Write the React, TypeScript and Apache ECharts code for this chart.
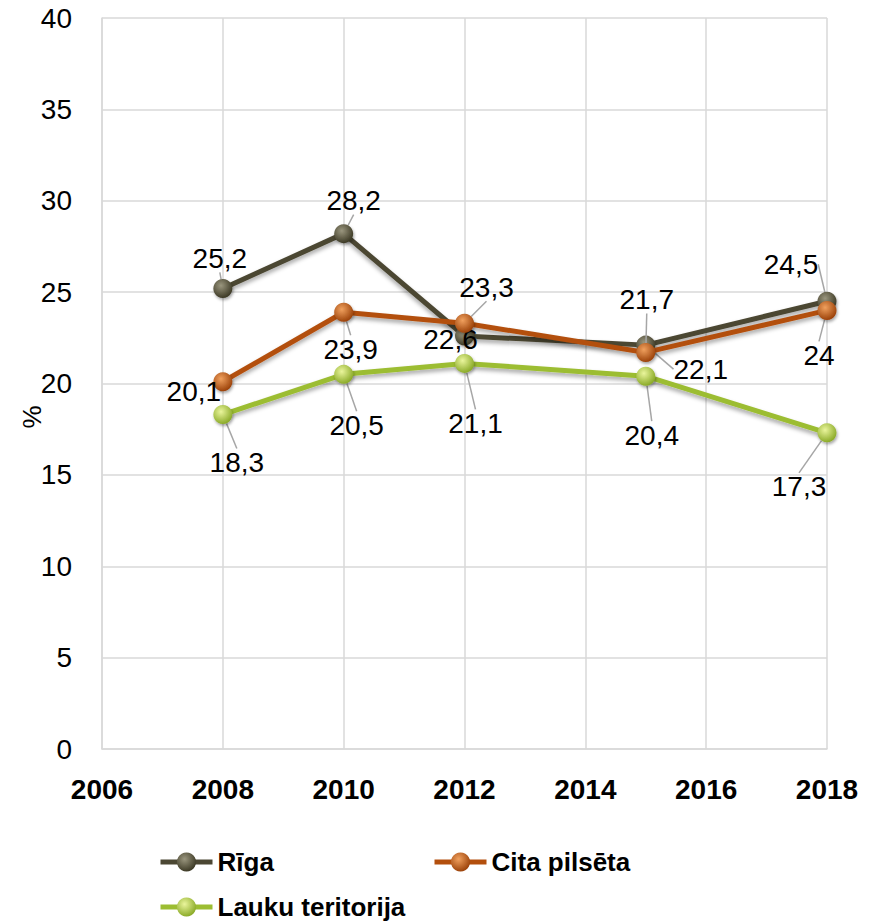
import React, { useEffect, useRef } from 'react';
import * as echarts from 'echarts';

const years = [2008, 2010, 2012, 2015, 2018];
const rigaValues = [25.2, 28.2, 22.6, 22.1, 24.5];
const citaValues = [20.1, 23.9, 23.3, 21.7, 24];
const laukuValues = [18.3, 20.5, 21.1, 20.4, 17.3];
const seriesNames = ['Rīga', 'Cita pilsēta', 'Lauku teritorija'];
const yAxisTitle = '%';

const labelOffsets: number[][][] = [
  [[-3, -30], [10, -33], [-14, 4], [55, 24], [-36, -37]],
  [[-29, 10], [7, 37], [22, -36], [1, -53], [-8, 45]],
  [[14, 48], [13, 51], [11, 60], [6, 59], [-28, 54]],
];

const palette = [
  { line: '#4B4733', light: '#9A967E', dark: '#36331F' },
  { line: '#B34F0D', light: '#F0A05E', dark: '#963C04' },
  { line: '#9CBD32', light: '#EAF59C', dark: '#84A520' },
];

const FONT = 'Liberation Sans';

export default function App() {
  const ref = useRef<HTMLDivElement>(null);
  useEffect(() => {
    if (!ref.current) return;
    const chart = echarts.init(ref.current, undefined, { renderer: 'svg' });
    const all = [rigaValues, citaValues, laukuValues];
    const series = all.map((vals, si) => ({
      name: seriesNames[si],
      type: 'line',
      data: years.map((y, i) => [y, vals[i]]),
      symbol: 'circle',
      symbolSize: 19,
      z: 2 + si,
      lineStyle: {
        color: palette[si].line,
        width: 5,
        shadowBlur: 4,
        shadowColor: 'rgba(0,0,0,0.35)',
        shadowOffsetY: 3,
      },
      itemStyle: {
        color: {
          type: 'radial',
          x: 0.4,
          y: 0.35,
          r: 0.7,
          colorStops: [
            { offset: 0, color: palette[si].light },
            { offset: 1, color: palette[si].dark },
          ],
        },
        borderWidth: 0,
        shadowBlur: 3,
        shadowColor: 'rgba(0,0,0,0.35)',
        shadowOffsetX: 1,
        shadowOffsetY: 2,
      },
      label: {
        show: true,
        position: 'inside',
        fontSize: 28,
        fontFamily: FONT,
        color: '#000',
        formatter: (p: any) => String(p.value[1]).replace('.', ','),
      },
      labelLine: {
        show: true,
        lineStyle: { color: '#A6A6A6', width: 1.5 },
      },
      labelLayout: (p: any) => ({
        dx: labelOffsets[p.seriesIndex][p.dataIndex][0],
        dy: labelOffsets[p.seriesIndex][p.dataIndex][1],
        hideOverlap: false,
      }),
      emphasis: { disabled: true },
    }));

    const legendBase = {
      itemWidth: 52,
      itemHeight: 24,
      itemGap: 0,
      lineStyle: { width: 5, shadowBlur: 0 },
      textStyle: {
        fontSize: 26,
        lineHeight: 28,
        fontWeight: 'bold',
        fontFamily: FONT,
        color: '#000',
      },
      selectedMode: false,
    };

    chart.setOption({
      animation: false,
      backgroundColor: '#fff',
      grid: { left: 102, right: 45, top: 18, bottom: 172 },
      xAxis: {
        type: 'value',
        min: 2006,
        max: 2018,
        interval: 2,
        axisLine: { show: true, lineStyle: { color: '#D9D9D9', width: 1.5 } },
        axisTick: { show: false },
        splitLine: { show: true, lineStyle: { color: '#D9D9D9', width: 1.5 } },
        axisLabel: {
          fontSize: 28,
          fontWeight: 'bold',
          fontFamily: FONT,
          color: '#000',
          margin: 26,
          formatter: (v: number) => String(v),
        },
      },
      yAxis: {
        type: 'value',
        min: 0,
        max: 40,
        interval: 5,
        axisLine: { show: true, lineStyle: { color: '#D9D9D9', width: 1.5 } },
        axisTick: { show: false },
        splitLine: { show: true, lineStyle: { color: '#D9D9D9', width: 1.5 } },
        axisLabel: {
          fontSize: 28,
          fontFamily: FONT,
          color: '#000',
          margin: 30,
        },
      },
      legend: [
        { ...legendBase, data: [seriesNames[0]], left: 153, top: 843 },
        { ...legendBase, data: [seriesNames[1]], left: 427, top: 843 },
        { ...legendBase, data: [seriesNames[2]], left: 153, top: 888 },
      ],
      graphic: [
        {
          type: 'text',
          x: 32,
          y: 417,
          rotation: Math.PI / 2,
          style: {
            text: yAxisTitle,
            fontSize: 26,
            fontFamily: FONT,
            fill: '#000',
            textAlign: 'center',
            textVerticalAlign: 'middle',
          },
        },
      ],
      series,
    });
    return () => chart.dispose();
  }, []);
  return (
    <div
      ref={ref}
      style={{ position: 'fixed', left: 0, top: 0, width: 872, height: 921 }}
    />
  );
}
